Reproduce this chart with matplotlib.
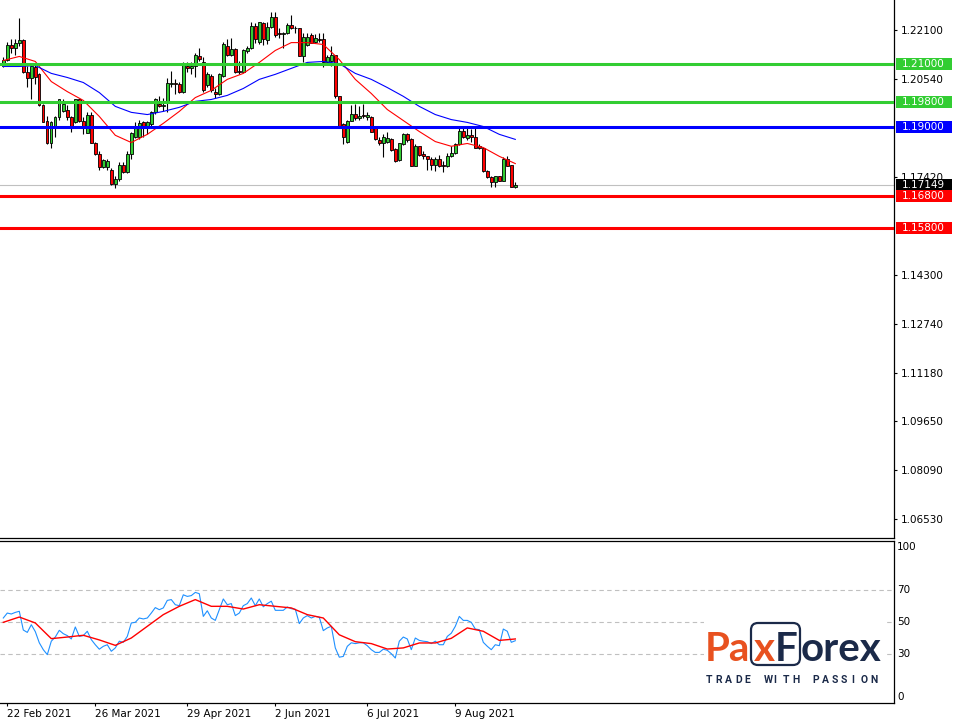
import numpy as np
import matplotlib
matplotlib.use('Agg')
import matplotlib.pyplot as plt
from matplotlib.patches import Rectangle, FancyBboxPatch
from matplotlib.transforms import blended_transform_factory

# ---------------- data ----------------
opens = [1.2096, 1.2115, 1.2160, 1.2153, 1.2169, 1.2176, 1.2074, 1.2055, 1.2090, 1.2068,
         1.1972, 1.1918, 1.1848, 1.1899, 1.1931, 1.1950, 1.1953, 1.1931, 1.1915, 1.1988,
         1.1918, 1.1880, 1.1937, 1.1851, 1.1816, 1.1772, 1.1772, 1.1765, 1.1718, 1.1734,
         1.1778, 1.1756, 1.1813, 1.1867, 1.1867, 1.1915, 1.1902, 1.1909, 1.1947, 1.1975,
         1.1966, 1.1978, 1.2036, 1.2039, 1.2036, 1.2013, 1.2096, 1.2087, 1.2093, 1.2125,
         1.2106, 1.2033, 1.2064, 1.2013, 1.2004, 1.2064, 1.2157, 1.2131, 1.2150, 1.2080,
         1.2077, 1.2141, 1.2153, 1.2223, 1.2172, 1.2230, 1.2176, 1.2220, 1.2252, 1.2198,
         1.2195, 1.2198, 1.2226, 1.2217, 1.2214, 1.2125, 1.2160, 1.2192, 1.2172, 1.2182,
         1.2179, 1.2106, 1.2112, 1.2128, 1.1998, 1.1909, 1.1854, 1.1921, 1.1943, 1.1928,
         1.1937, 1.1931, 1.1931, 1.1899, 1.1858, 1.1851, 1.1854, 1.1861, 1.1829, 1.1794,
         1.1845, 1.1877, 1.1861, 1.1775, 1.1839, 1.1813, 1.1807, 1.1800, 1.1781, 1.1797,
         1.1778, 1.1775, 1.1807, 1.1819, 1.1845, 1.1889, 1.1864, 1.1874, 1.1867, 1.1839,
         1.1835, 1.1759, 1.1740, 1.1724, 1.1743, 1.1730, 1.1800, 1.1778, 1.1711]
highs = [1.2122, 1.2172, 1.2182, 1.2179, 1.2246, 1.2182, 1.2093, 1.2099, 1.2099, 1.2071,
         1.1975, 1.1934, 1.1918, 1.1934, 1.1991, 1.1991, 1.1969, 1.1934, 1.1991, 1.1991,
         1.1931, 1.1947, 1.1947, 1.1854, 1.1823, 1.1797, 1.1797, 1.1769, 1.1743, 1.1788,
         1.1788, 1.1823, 1.1883, 1.1915, 1.1924, 1.1921, 1.1921, 1.1950, 1.1994, 1.1998,
         1.1994, 1.2055, 1.2080, 1.2052, 1.2045, 1.2106, 1.2106, 1.2106, 1.2137, 1.2153,
         1.2122, 1.2074, 1.2068, 1.2026, 1.2071, 1.2172, 1.2182, 1.2185, 1.2153, 1.2109,
         1.2150, 1.2157, 1.2233, 1.2230, 1.2236, 1.2233, 1.2233, 1.2265, 1.2265, 1.2217,
         1.2204, 1.2230, 1.2258, 1.2223, 1.2217, 1.2201, 1.2201, 1.2201, 1.2195, 1.2198,
         1.2201, 1.2131, 1.2157, 1.2131, 1.1998, 1.1912, 1.1924, 1.1972, 1.1975, 1.1966,
         1.1975, 1.1947, 1.1934, 1.1902, 1.1870, 1.1877, 1.1883, 1.1864, 1.1832, 1.1851,
         1.1880, 1.1880, 1.1864, 1.1845, 1.1839, 1.1823, 1.1807, 1.1804, 1.1804, 1.1810,
         1.1791, 1.1819, 1.1839, 1.1848, 1.1896, 1.1902, 1.1899, 1.1893, 1.1899, 1.1845,
         1.1835, 1.1762, 1.1743, 1.1746, 1.1746, 1.1804, 1.1807, 1.1781, 1.1724]
lows = [1.2090, 1.2109, 1.2137, 1.2131, 1.2157, 1.2071, 1.2029, 1.1991, 1.2036, 1.1966,
        1.1915, 1.1845, 1.1835, 1.1870, 1.1924, 1.1947, 1.1924, 1.1883, 1.1912, 1.1915,
        1.1877, 1.1880, 1.1848, 1.1810, 1.1765, 1.1769, 1.1765, 1.1715, 1.1705, 1.1727,
        1.1753, 1.1753, 1.1797, 1.1864, 1.1861, 1.1870, 1.1877, 1.1905, 1.1943, 1.1963,
        1.1950, 1.1947, 1.2029, 1.2004, 1.2010, 1.2010, 1.2077, 1.2068, 1.2061, 1.2109,
        1.2013, 1.2029, 1.2013, 1.1994, 1.2001, 1.2061, 1.2125, 1.2125, 1.2071, 1.2068,
        1.2074, 1.2137, 1.2150, 1.2169, 1.2163, 1.2160, 1.2163, 1.2217, 1.2188, 1.2185,
        1.2153, 1.2195, 1.2211, 1.2201, 1.2125, 1.2106, 1.2157, 1.2169, 1.2169, 1.2172,
        1.2090, 1.2099, 1.2096, 1.1994, 1.1899, 1.1845, 1.1851, 1.1918, 1.1924, 1.1924,
        1.1928, 1.1924, 1.1883, 1.1858, 1.1842, 1.1804, 1.1851, 1.1823, 1.1788, 1.1791,
        1.1842, 1.1854, 1.1775, 1.1775, 1.1807, 1.1797, 1.1762, 1.1762, 1.1759, 1.1772,
        1.1756, 1.1772, 1.1804, 1.1816, 1.1842, 1.1864, 1.1858, 1.1854, 1.1832, 1.1829,
        1.1756, 1.1737, 1.1711, 1.1708, 1.1727, 1.1727, 1.1775, 1.1711, 1.1705]
closes = [1.2115, 1.2160, 1.2153, 1.2169, 1.2176, 1.2074, 1.2055, 1.2096, 1.2061, 1.1969,
          1.1915, 1.1848, 1.1915, 1.1931, 1.1988, 1.1975, 1.1931, 1.1899, 1.1988, 1.1918,
          1.1902, 1.1937, 1.1851, 1.1813, 1.1772, 1.1794, 1.1791, 1.1718, 1.1734, 1.1778,
          1.1756, 1.1816, 1.1880, 1.1902, 1.1912, 1.1902, 1.1915, 1.1947, 1.1988, 1.1966,
          1.1972, 1.2039, 1.2039, 1.2036, 1.2013, 1.2099, 1.2087, 1.2093, 1.2128, 1.2118,
          1.2017, 1.2068, 1.2017, 1.2004, 1.2068, 1.2163, 1.2128, 1.2150, 1.2074, 1.2074,
          1.2147, 1.2153, 1.2223, 1.2179, 1.2233, 1.2182, 1.2220, 1.2252, 1.2192, 1.2195,
          1.2198, 1.2226, 1.2214, 1.2214, 1.2125, 1.2188, 1.2188, 1.2169, 1.2185, 1.2176,
          1.2106, 1.2122, 1.2128, 1.1998, 1.1899, 1.1867, 1.1921, 1.1943, 1.1928, 1.1934,
          1.1934, 1.1940, 1.1886, 1.1861, 1.1851, 1.1870, 1.1864, 1.1826, 1.1791, 1.1848,
          1.1877, 1.1858, 1.1775, 1.1839, 1.1810, 1.1807, 1.1797, 1.1781, 1.1797, 1.1775,
          1.1775, 1.1807, 1.1819, 1.1845, 1.1889, 1.1867, 1.1874, 1.1867, 1.1835, 1.1832,
          1.1759, 1.1740, 1.1724, 1.1743, 1.1730, 1.1797, 1.1775, 1.1711, 1.17149]

# moving averages sampled every 4 bars
ma_step = 4
ma_fast = [1.2112, 1.2125, 1.2109, 1.2045, 1.2013, 1.1985, 1.1934, 1.1874, 1.1851, 1.1877,
           1.1912, 1.1950, 1.1994, 1.2017, 1.2052, 1.2071, 1.2106, 1.2144, 1.2169, 1.2169,
           1.2163, 1.2115, 1.2052, 1.2007, 1.1956, 1.1921, 1.1886, 1.1854, 1.1839, 1.1848,
           1.1835, 1.1807, 1.1784]
ma_slow = [1.2093, 1.2093, 1.2096, 1.2071, 1.2058, 1.2042, 1.2010, 1.1966, 1.1947, 1.1940,
           1.1950, 1.1963, 1.1982, 1.1988, 1.2001, 1.2023, 1.2052, 1.2068, 1.2087, 1.2106,
           1.2109, 1.2102, 1.2071, 1.2052, 1.2026, 1.1998, 1.1966, 1.1940, 1.1924, 1.1915,
           1.1902, 1.1877, 1.1861]

rsi = [52.5, 55.6, 55.0, 56.0, 56.7, 45.0, 43.5, 48.3, 44.0, 37.0,
       32.7, 29.6, 38.0, 40.6, 44.8, 42.7, 41.5, 39.4, 46.9, 41.0,
       41.5, 44.2, 39.0, 35.8, 33.0, 34.8, 35.8, 31.7, 33.8, 38.0,
       37.3, 41.0, 49.4, 49.8, 52.5, 51.9, 52.5, 55.6, 59.0, 57.7,
       58.8, 63.5, 64.0, 60.8, 60.2, 67.0, 66.0, 66.5, 68.5, 67.7,
       53.5, 57.0, 52.5, 51.0, 57.7, 64.4, 60.8, 61.5, 54.0, 55.6,
       60.2, 61.5, 65.0, 60.2, 64.4, 59.5, 61.5, 63.0, 57.3, 57.3,
       57.3, 59.4, 58.3, 58.0, 49.0, 52.5, 54.0, 52.5, 53.5, 53.0,
       44.6, 46.3, 47.3, 33.8, 28.0, 28.5, 34.8, 37.0, 36.5, 37.0,
       37.0, 35.2, 32.7, 31.0, 31.0, 33.0, 32.3, 30.2, 27.5, 38.0,
       40.6, 39.4, 32.7, 40.0, 38.5, 38.0, 37.7, 36.5, 38.0, 35.8,
       35.8, 41.0, 43.0, 47.3, 53.5, 51.0, 51.0, 49.8, 45.6, 45.2,
       37.3, 34.8, 32.7, 35.8, 35.2, 45.6, 44.2, 37.3, 38.3]
rsi_signal = [49.8, 53.1, 49.4, 39.6, 40.6, 41.7, 38.8, 35.4, 40.0, 47.3,
              54.6, 59.8, 64.0, 59.8, 59.8, 58.1, 60.8, 59.8, 58.8, 54.6,
              52.5, 42.0, 37.7, 36.5, 33.1, 33.8, 36.9, 36.9, 39.8, 46.3,
              44.2, 38.5, 39.4]

levels_green = [1.2100, 1.1980]
levels_blue = [1.1900]
levels_red = [1.1680, 1.1580]
last_price = 1.17149
price_ticks = [1.22100, 1.20540, 1.17420, 1.14300, 1.12740, 1.11180, 1.09650, 1.08090, 1.06530]
rsi_levels = [70, 50, 30]
rsi_ticks = [100, 70, 50, 30, 0]
date_labels = ['22 Feb 2021', '26 Mar 2021', '29 Apr 2021', '2 Jun 2021', '6 Jul 2021', '9 Aug 2021']
date_bars = [1, 23, 46, 68, 91, 113]

# ---------------- layout ----------------
W, H = 959, 721
fig = plt.figure(figsize=(W / 100, H / 100), dpi=100)
fig.patch.set_facecolor('white')

GREEN = '#32CD32'
BLUE = '#0000FF'
RED = '#FF0000'

ax = fig.add_axes([0, (H - 538) / H, 894 / W, 538 / H])
ax2 = fig.add_axes([0, (H - 703) / H, 894 / W, (703 - 541) / H])

x = np.arange(len(closes))
o = np.array(opens); c = np.array(closes); h = np.array(highs); l = np.array(lows)
up = c >= o
body_bot = np.minimum(o, c)
body_h = np.maximum(np.abs(c - o), 0.00012)
ax.vlines(x, l, h, color='black', lw=0.8, zorder=2)
ax.bar(x, body_h, bottom=body_bot, width=0.6,
       color=np.where(up, GREEN, RED), edgecolor='black', linewidth=0.6, zorder=3)

xm = np.arange(len(ma_fast)) * ma_step
ax.plot(xm, ma_fast, color=RED, lw=0.8, zorder=4)
ax.plot(xm, ma_slow, color=BLUE, lw=0.8, zorder=4)

ax.axhline(last_price, color='#C0C0C0', lw=0.8, zorder=1)
for lv in levels_green:
    ax.axhline(lv, color=GREEN, lw=2.2, zorder=5)
for lv in levels_blue:
    ax.axhline(lv, color=BLUE, lw=2.2, zorder=5)
for lv in levels_red:
    ax.axhline(lv, color=RED, lw=2.2, zorder=5)

xlim = (-0.825, 222.675)
ax.set_xlim(*xlim)
ax.set_ylim(1.05923, 1.23046)
ax.set_xticks([])
ax.yaxis.tick_right()
ax.set_yticks(price_ticks)
ax.set_yticklabels([f'{v:.5f}' for v in price_ticks])
ax.tick_params(axis='y', length=2.2, width=0.8, pad=3, labelsize=7.5, colors='black')
for s in ['left', 'top']:
    ax.spines[s].set_visible(False)
for s in ['right', 'bottom']:
    ax.spines[s].set_linewidth(0.9)

# price labels on the right
trans = blended_transform_factory(fig.transFigure, ax.transData)
box_h = 12 / 3142
def price_label(val, color):
    ax.add_patch(Rectangle((896 / W, val - box_h / 2), 56 / W, box_h, transform=trans,
                           facecolor=color, edgecolor='none', clip_on=False, zorder=20))
    ax.text(901.5 / W, val, f'{val:.5f}', transform=trans, color='white', fontsize=7.5,
            va='center', ha='left', clip_on=False, zorder=21)
for lv in levels_green:
    price_label(lv, GREEN)
for lv in levels_blue:
    price_label(lv, BLUE)
price_label(last_price, 'black')
for lv in levels_red:
    price_label(lv, RED)

# ---------------- RSI panel ----------------
ax2.plot(x, rsi, color='#1E90FF', lw=0.8, zorder=3)
ax2.plot(xm, rsi_signal, color=RED, lw=1.0, zorder=4)
for lv in rsi_levels:
    ax2.axhline(lv, color='#C0C0C0', lw=0.8, ls=(0, (4, 3)), zorder=1)
ax2.set_xlim(*xlim)
ax2.set_ylim(-0.625, 100.625)
ax2.set_yticks([])
ax2.spines['left'].set_visible(False)
for s in ['right', 'bottom', 'top']:
    ax2.spines[s].set_linewidth(0.9)
ax2.set_xticks(date_bars)
ax2.set_xticklabels(date_labels, ha='left')
ax2.tick_params(axis='x', length=2.5, width=0.8, pad=2, labelsize=7.5)
trans2 = blended_transform_factory(ax2.transAxes, ax2.transData)
for v in rsi_ticks:
    va = 'top' if v == 100 else ('bottom' if v == 0 else 'center')
    ax2.text(1.0 + 3 / 894, v, str(v), transform=trans2, fontsize=7.5, va=va, ha='left',
             clip_on=False)

# ---------------- logo ----------------
ORANGE = '#E8511F'
NAVY = '#1B2A49'
fig.patches.append(Rectangle((704 / W, 1 - 690 / H), 181 / W, 75 / H, transform=fig.transFigure,
                             facecolor='white', edgecolor='none', zorder=5))
def fx(px):
    return px / W
def fy(py):
    return 1 - py / H
logo_kw = dict(fontsize=29, fontweight='bold', family='Lato', va='baseline', ha='left', zorder=7)
fig.text(fx(705), fy(661), 'Pa', color=ORANGE, **logo_kw)
fig.text(fx(754), fy(661), 'x', color=ORANGE, **logo_kw)
fig.text(fx(775), fy(661), 'F', color=NAVY, **logo_kw)
fig.text(fx(801), fy(661), 'orex', color=NAVY, **logo_kw)
fig.patches.append(FancyBboxPatch((751 / 100, (H - 665) / 100), 49 / 100, 42 / 100,
                                  boxstyle='round,pad=0,rounding_size=0.07',
                                  transform=fig.dpi_scale_trans, facecolor='none',
                                  edgecolor=NAVY, lw=1.6, zorder=6))
tag = 'TRADE WITH PASSION'
for i, ch in enumerate(tag):
    if ch != ' ':
        fig.text(fx(706 + i * 9.65), fy(680), ch, color=NAVY, fontsize=7.5, fontweight='bold',
                 family='Roboto', va='center', ha='left', zorder=7)

fig.savefig('out.png', dpi=100, facecolor='white')
